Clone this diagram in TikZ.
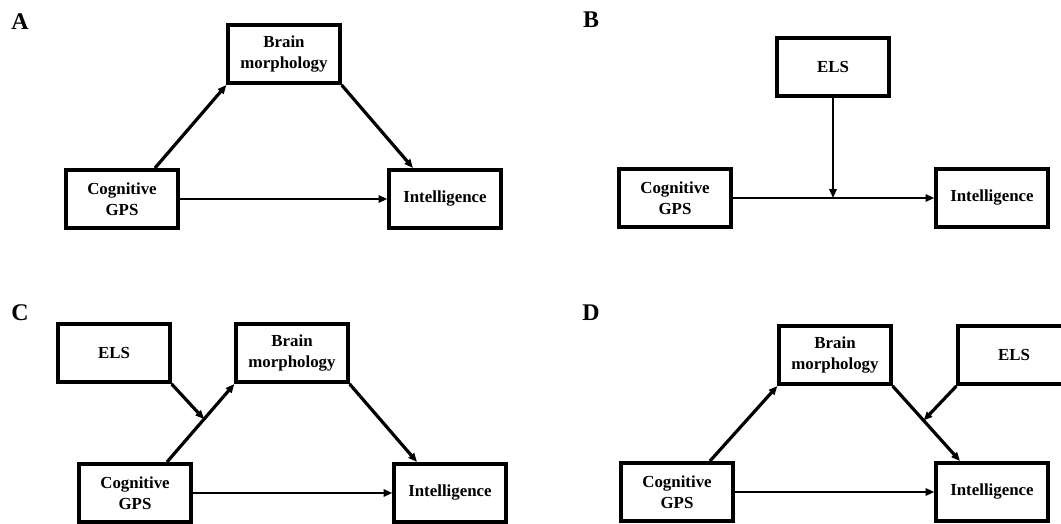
\documentclass[tikz,border=0pt]{standalone}
\usepackage{fontspec}
\setmainfont{Liberation Serif}
\usetikzlibrary{positioning, arrows.meta, calc}

\begin{document}
\begin{tikzpicture}[x=0.025cm, y=-0.025cm,
    every node/.style={font=\bfseries\fontsize{12}{15}\selectfont},
    varbox/.style={draw, line width=0.1cm, minimum width=2.78cm, minimum height=1.45cm,
                   align=center, inner sep=0pt},
    panel/.style={font=\bfseries\fontsize{17}{18}\selectfont},
    link/.style={-{Triangle[length=0.22cm, width=0.18cm]}, line width=0.08cm},
    flat/.style={link, line width=0.07cm}]
  \useasboundingbox (0,0) rectangle (1061,524);
  \clip (0,0) rectangle (1061,524);
  % Panel labels
  \node[panel] (labA) at (20,22) {A};
  \node[panel] (labB) at (591,20) {B};
  \node[panel] (labC) at (20,313) {C};
  \node[panel] (labD) at (591,313) {D};
  % Panel A: mediation
  \node[varbox] (brainA) at (284,54) {Brain\\morphology};
  \node[varbox] (cogA) at (122,199) {Cognitive\\GPS};
  \node[varbox] (intA) at (445,199) {Intelligence};
  \draw[link] ($(cogA.north)+(33,0)$) -- (brainA.south west);
  \draw[link] (brainA.south east) -- ($(intA.north)+(-32,0)$);
  \draw[flat] (cogA.east) -- (intA.west);
  % Panel B: moderation
  \node[varbox] (elsB) at (833,67) {ELS};
  \node[varbox] (cogB) at (675,198) {Cognitive\\GPS};
  \node[varbox] (intB) at (992,198) {Intelligence};
  \draw[flat] (cogB.east) -- (intB.west);
  \coordinate (modB) at (elsB.south |- cogB.east);
  \draw[flat] (elsB.south) -- (modB);
  % Panel C: moderated first stage
  \node[varbox] (elsC) at (114,353) {ELS};
  \node[varbox] (brainC) at (292,353) {Brain\\morphology};
  \node[varbox] (cogC) at (135,493) {Cognitive\\GPS};
  \node[varbox] (intC) at (450,493) {Intelligence};
  \coordinate (startC) at ($(cogC.north)+(32,0)$);
  \draw[link] (startC) -- (brainC.south west);
  \coordinate (modC) at ($(startC)!0.55!(brainC.south west)$);
  \draw[link] (elsC.south east) -- (modC);
  \draw[link] (brainC.south east) -- ($(intC.north)+(-33,0)$);
  \draw[flat] (cogC.east) -- (intC.west);
  % Panel D: moderated second stage
  \node[varbox] (brainD) at (835,355) {Brain\\morphology};
  \node[varbox] (elsD) at (1014,355) {ELS};
  \node[varbox] (cogD) at (677,492) {Cognitive\\GPS};
  \node[varbox] (intD) at (992,492) {Intelligence};
  \draw[link] ($(cogD.north)+(33,0)$) -- (brainD.south west);
  \coordinate (endD) at ($(intD.north)+(-32,0)$);
  \draw[link] (brainD.south east) -- (endD);
  \coordinate (modD) at ($(brainD.south east)!0.46!(endD)$);
  \draw[link] (elsD.south west) -- (modD);
  \draw[flat] (cogD.east) -- (intD.west);
\end{tikzpicture}
\end{document}
